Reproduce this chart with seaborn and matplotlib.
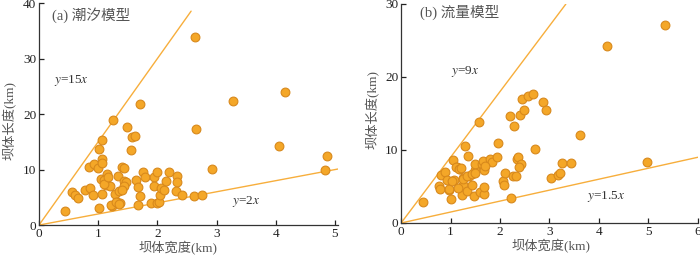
import numpy as np
import pandas as pd
import seaborn as sns
import matplotlib.pyplot as plt

# (a) tidal model: dam width / length (km)
tide_w = [0.44, 0.55, 0.61, 0.66, 0.78, 0.87, 0.92, 0.84, 0.93, 0.99, 1.01, 1.06, 1.06, 1.07,
          1.01, 1.04, 1.06, 1.12, 1.15, 1.13, 1.20, 1.25, 1.24, 1.28, 1.31, 1.34, 1.36, 1.37,
          1.40, 1.43, 1.43, 1.47, 1.44, 1.48, 1.56, 1.57, 1.62, 1.64, 1.67, 1.67, 1.71, 1.71,
          1.76, 1.79, 1.90, 1.94, 1.94, 1.99, 2.00, 2.03, 2.05, 2.06, 2.12, 2.14, 2.20, 2.34,
          2.34, 2.31, 2.42, 2.62, 2.75, 2.64, 2.65, 2.93, 3.28, 4.05, 4.15, 4.84, 4.86,
          1.10, 1.22, 1.30, 1.36, 1.41, 1.09, 1.16]
tide_l = [2.6, 6.0, 5.4, 4.8, 6.3, 6.6, 5.5, 10.4, 11.0, 10.2, 13.7, 15.3, 11.9, 11.2,
          3.0, 8.3, 5.6, 7.8, 9.2, 7.2, 7.1, 19.0, 3.5, 5.6, 4.2, 8.9, 6.1, 3.9,
          10.5, 10.2, 7.9, 7.8, 7.0, 17.6, 13.6, 15.8, 16.0, 8.1, 6.9, 3.7, 5.2, 21.9,
          9.5, 8.6, 3.9, 8.7, 7.0, 9.6, 3.9, 4.2, 5.5, 6.6, 6.4, 7.9, 9.6, 8.9,
          7.8, 6.1, 5.5, 5.3, 5.4, 33.9, 17.3, 10.1, 22.3, 14.2, 23.9, 9.9, 12.5,
          8.2, 3.6, 4.2, 3.8, 6.3, 7.4, 8.6]

# (b) discharge model
flow_w = [0.44, 0.76, 0.78, 0.81, 0.88, 0.93, 0.97, 1.01, 1.06, 1.05, 1.13, 1.20, 1.25, 1.25,
          1.24, 1.29, 1.33, 1.35, 1.38, 1.43, 1.48, 1.49, 1.49, 1.57, 1.60, 1.64, 1.67, 1.67,
          1.68, 1.66, 1.80, 1.84, 1.94, 1.95, 2.06, 2.09, 2.11, 2.22, 2.21, 2.28, 2.26, 2.32,
          2.34, 2.36, 2.40, 2.42, 2.45, 2.49, 2.56, 2.66, 2.71, 2.87, 2.93, 3.04, 3.17, 3.21,
          3.25, 3.43, 3.62, 4.16, 4.98, 5.34,
          0.96, 1.11, 1.18, 1.22, 1.25, 1.33, 1.43, 1.03, 1.15, 1.50, 1.70, 2.38]
flow_l = [2.9, 5.1, 4.7, 6.6, 7.0, 5.9, 4.5, 3.3, 5.9, 8.6, 7.6, 7.4, 6.1, 5.2,
          3.8, 10.5, 4.4, 9.2, 6.5, 5.2, 3.7, 7.2, 8.1, 13.8, 4.3, 8.1, 7.3, 4.0,
          4.9, 8.5, 8.7, 8.4, 9.0, 11.0, 5.8, 5.2, 6.8, 3.4, 14.7, 13.3, 6.5, 6.4,
          8.7, 9.1, 14.8, 8.1, 17.0, 15.5, 17.4, 17.7, 10.2, 16.6, 15.5, 6.2, 6.6, 6.9,
          8.2, 8.2, 12.1, 24.3, 8.3, 27.1,
          4.6, 7.6, 7.4, 7.5, 6.0, 6.4, 6.7, 5.8, 4.8, 6.9, 7.8, 7.7]

sns.set_style("ticks")
plt.rcParams['font.family'] = ['Liberation Serif', 'Noto Sans CJK SC', 'DejaVu Sans']
plt.rcParams['mathtext.fontset'] = 'stix'

fill = "#F4A728"
edge = "#D8891C"
line_c = "#F7AE3C"
gray = "#555555"

fig = plt.figure(figsize=(7, 2.59), dpi=100)
ax1 = fig.add_axes([0.0557, 0.131, 0.427, 0.857])
ax2 = fig.add_axes([0.573, 0.139, 0.424, 0.846])

panels = [
    (ax1, tide_w, tide_l, (0, 5.05), (0, 40), [0, 1, 2, 3, 4, 5], [0, 10, 20, 30, 40],
     "(a) 潮汐模型", (0.22, 37.9), [(15, 2.57), (2, 5.05)],
     [("$y$=15$x$", 0.55, 26.0), ("$y$=2$x$", 3.5, 4.2)], 0.465, 0.47),
    (ax2, flow_w, flow_l, (0, 6.0), (0, 30), [0, 1, 2, 3, 4, 5, 6], [0, 10, 20, 30],
     "(b) 流量模型", (0.39, 28.8), [(9, 3.33), (1.5, 6.0)],
     [("$y$=9$x$", 1.3, 20.7), ("$y$=1.5$x$", 4.15, 3.6)], 0.506, 0.516),
]

for ax, w, l, xl, yl, xt, yt, title, tpos, lines, labels, xlab_x, ylab_y in panels:
    df = pd.DataFrame({"w": w, "l": l})
    for k, xend in lines:
        xs = np.array([0, xend])
        ax.plot(xs, k * xs, color=line_c, lw=1.0, zorder=1)
    sns.scatterplot(data=df, x="w", y="l", ax=ax, s=40, color=fill,
                    edgecolor=edge, linewidth=0.8, zorder=3, clip_on=False)
    ax.set_xlim(*xl)
    ax.set_ylim(*yl)
    ax.set_xticks(xt)
    ax.set_yticks(yt)
    ax.tick_params(direction="in", length=3.5, width=0.9, labelsize=9.5,
                   colors="#222222", pad=2)
    for s in ["top", "right"]:
        ax.spines[s].set_visible(False)
    for s in ["left", "bottom"]:
        ax.spines[s].set_color("#333333")
        ax.spines[s].set_linewidth(0.9)
    ax.set_xlabel("坝体宽度(km)", fontsize=9.5, color=gray, labelpad=1)
    ax.set_ylabel("坝体长度(km)", fontsize=9.5, color=gray, labelpad=4)
    ax.xaxis.label.set_x(xlab_x)
    ax.yaxis.label.set_y(ylab_y)
    ax.text(tpos[0], tpos[1], title, fontsize=10.5, color=gray, va="center", ha="left")
    for txt, x, y in labels:
        ax.text(x, y, txt, fontsize=9.5, color="#333333", ha="center", va="center")

fig.savefig("out.png", dpi=100)
